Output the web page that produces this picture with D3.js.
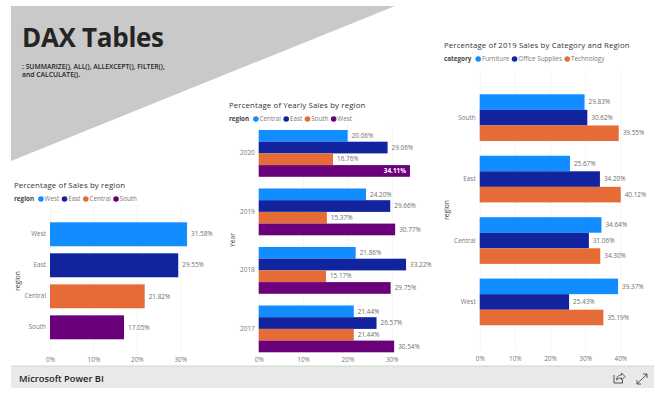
<!DOCTYPE html>
<html>
<head>
<meta charset="utf-8">
<script src="https://cdn.jsdelivr.net/npm/d3@7/dist/d3.min.js"></script>
<style>
html,body{margin:0;padding:0;background:#fff;overflow:hidden}
svg{display:block}
text{font-family:"Open Sans","Noto Sans",sans-serif}
</style>
</head>
<body>
<svg id="c" width="664" height="394"></svg>
<script>
const regionsA = ["West","East","Central","South"];
const salesShare = [31.58,29.55,21.82,17.05];

const years = ["2020","2019","2018","2017"];
const yearRegions = ["Central","East","South","West"];
const centralYear = [20.06,24.20,21.86,21.44];
const eastYear = [29.06,29.66,33.22,26.57];
const southYear = [16.76,15.37,15.17,21.44];
const westYear = [34.11,30.77,29.75,30.54];

const regionsC = ["South","East","Central","West"];
const categories = ["Furniture","Office Supplies","Technology"];
const furniture = [29.83,25.67,34.64,39.37];
const officeSupplies = [30.62,34.20,31.06,25.43];
const technology = [39.55,40.12,34.30,35.19];

const palette = ["#118DFF","#12239E","#E66C37","#6B007B"];

const svg = d3.select("#c");

// banner
svg.append("path").attr("d",d3.line()([[11,6],[395,6],[11,161]])+"Z").attr("fill","#c9c9c9");
svg.append("text").attr("x",22).attr("y",47).attr("font-size",26).attr("font-weight",700).attr("letter-spacing",-0.3).attr("fill","#252423").text("DAX Tables");
[": SUMMARIZE(), ALL(), ALLEXCEPT(), FILTER(),","and CALCULATE()."].forEach((t,i)=>{
  svg.append("text").attr("x",22).attr("y",68.5+i*8.8).attr("font-size",6.8).attr("font-weight",600).attr("fill","#252423").text(t);
});

// footer
svg.append("rect").attr("x",11).attr("y",366).attr("width",643).attr("height",22).attr("fill","#e9e9e9");
svg.append("line").attr("x1",11).attr("x2",654).attr("y1",366).attr("y2",366).attr("stroke","#d4d4d4");
svg.append("text").attr("x",19).attr("y",382).attr("font-size",9.3).attr("font-weight",600).attr("fill","#252423").text("Microsoft Power BI");
const icons = svg.append("g").attr("fill","none").attr("stroke","#444").attr("stroke-width",0.9);
icons.append("path").attr("d","M614 375v8h8.5v-3M616.5 380c0-3 2-5 5-5v-2l3.5 3.5-3.5 3.5v-2c-2 0-3.500 .6-5 2");
icons.append("path").attr("d","M637 384l10-10M637 380v4h4M643 374h4v4");

function legend(o){
  const g = svg.append("g").attr("transform",`translate(${o.x},${o.y})`);
  const h = g.append("text").attr("x",0).attr("y",2.3).attr("font-size",6.3).attr("font-weight",700).attr("fill","#444").text(o.title);
  let x = h.node().getComputedTextLength()+4;
  o.names.forEach((n,i)=>{
    g.append("circle").attr("cx",x+2.8).attr("cy",0).attr("r",2.8).attr("fill",palette[i]);
    const t = g.append("text").attr("x",x+6.5).attr("y",2.3).attr("font-size",6.3).attr("fill","#7a7a7a").text(n);
    x += 6.5+t.node().getComputedTextLength()+2.5;
  });
}

function chart(o){
  svg.append("text").attr("x",o.titleX).attr("y",o.titleY).attr("font-size",7.8).attr("letter-spacing",0.15).attr("fill","#333").text(o.title);
  legend({x:o.titleX,y:o.titleY+11,title:o.legendTitle,names:o.legendNames});

  const x = d3.scaleLinear().domain([0,o.max]).range([o.x0,o.x1]);
  const y = d3.scaleBand().domain(o.groups).range([o.top,o.bottom]).paddingInner(o.pad).paddingOuter(0);
  const inner = d3.scaleBand().domain(o.series.map(s=>s.name)).range([0,y.bandwidth()]);

  const ax = svg.append("g").attr("transform",`translate(0,${o.axisY})`)
    .call(d3.axisBottom(x).tickValues(o.ticks).tickFormat(d=>d+"%").tickSize(-(o.axisY-o.gridTop)).tickPadding(5));
  ax.select(".domain").remove();
  ax.selectAll("line").attr("stroke","#f5f5f5");
  ax.selectAll("text").attr("font-size",6.4).attr("fill","#777").attr("font-family",'"Open Sans",sans-serif');

  const ay = svg.append("g").attr("transform",`translate(${o.x0-4},0)`).call(d3.axisLeft(y).tickSize(0).tickPadding(0));
  ay.select(".domain").remove();
  ay.selectAll("text").attr("font-size",6.4).attr("fill","#777").attr("font-family",'"Open Sans",sans-serif');

  o.series.forEach((s,si)=>{
    const g = svg.append("g");
    const rows = o.groups.map((k,i)=>({k,v:s.values[i],c:o.colorByGroup?palette[i]:palette[si]}));
    const yp = d=> o.colorByGroup ? y(d.k) : y(d.k)+inner(s.name);
    const bh = o.colorByGroup ? y.bandwidth() : inner.bandwidth();
    g.selectAll("rect").data(rows).join("rect")
      .attr("x",x(0)).attr("y",yp).attr("width",d=>x(d.v)-x(0)).attr("height",bh).attr("fill",d=>d.c);
    g.selectAll("text").data(rows).join("text")
      .attr("y",d=>yp(d)+bh/2+2.2)
      .attr("font-size",6.4)
      .attr("x",d=>d.v===o.insideValue ? x(d.v)-4 : x(d.v)+4)
      .attr("text-anchor",d=>d.v===o.insideValue?"end":"start")
      .attr("font-weight",d=>d.v===o.insideValue?700:400)
      .attr("fill",d=>d.v===o.insideValue?"#fff":"#6e6e6e")
      .text(d=>d.v.toFixed(2)+"%");
  });

  svg.append("text").attr("transform",`translate(${o.axisTitleX},${o.axisTitleY}) rotate(-90)`)
    .attr("text-anchor","middle").attr("font-size",6.6).attr("fill","#444").text(o.axisTitle);
}

chart({
  title:"Percentage of Sales by region",titleX:14,titleY:188,legendTitle:"region",legendNames:regionsA,
  series:[{name:"share",values:salesShare}],
  groups:regionsA,colorByGroup:true,
  x0:50,x1:50+4.34*35,max:35,ticks:[0,10,20,30],
  top:222.3,bottom:339.3,pad:0.228,axisY:352,gridTop:205,
  axisTitle:"region",axisTitleX:20,axisTitleY:281
});

chart({
  title:"Percentage of Yearly Sales by region",titleX:229,titleY:108,legendTitle:"region",legendNames:yearRegions,
  series:[{name:yearRegions[0],values:centralYear},{name:yearRegions[1],values:eastYear},{name:yearRegions[2],values:southYear},{name:yearRegions[3],values:westYear}],
  groups:years,
  x0:258.7,x1:258.7+4.435*35,max:35,ticks:[0,10,20,30],
  insideValue:34.11,
  top:130,bottom:352.3,pad:0.2,axisY:352.3,gridTop:125,
  axisTitle:"Year",axisTitleX:235,axisTitleY:240
});

chart({
  title:"Percentage of 2019 Sales by Category and Region",titleX:444,titleY:48,legendTitle:"category",legendNames:categories,
  series:[{name:categories[0],values:furniture},{name:categories[1],values:officeSupplies},{name:categories[2],values:technology}],
  groups:regionsC,
  x0:479.7,x1:479.7+3.515*40,max:40,ticks:[0,10,20,30,40],
  top:94.3,bottom:325.3,pad:0.24,axisY:351.5,gridTop:70,
  axisTitle:"region",axisTitleX:449,axisTitleY:210
});
</script>
</body>
</html>
